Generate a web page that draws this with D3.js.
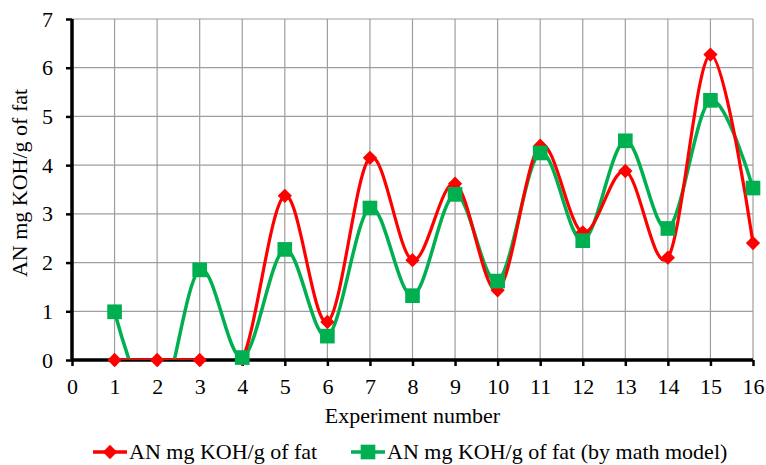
<!DOCTYPE html>
<html>
<head>
<meta charset="utf-8">
<script src="https://cdn.jsdelivr.net/npm/d3@7"></script>
</head>
<body style="margin:0;background:#fff">
<div id="container"></div>
<script>
// experiment numbers and the two series
const experiments=[1,2,3,4,5,6,7,8,9,10,11,12,13,14,15,16];
const anMeasured=[0,0,0,0.02,3.37,0.78,4.15,2.05,3.62,1.43,4.4,2.62,3.88,2.1,6.27,2.4];
const anModel=[0.99,-1.05,1.85,0.05,2.27,0.49,3.12,1.32,3.4,1.62,4.25,2.45,4.5,2.7,5.33,3.53];
const xTicks=d3.range(0,17);
const yTicks=d3.range(0,8);
const seriesNames=["AN mg KOH/g of fat","AN mg KOH/g of fat (by math model)"];

const w=766, h=465;
const margin={top:19, left:72, bottom:105, right:13};
const graphWidth=w-margin.left-margin.right;
const graphHeight=h-margin.top-margin.bottom;
const font="Liberation Serif";

const svg=d3.select("#container").append("svg").attr("width",w).attr("height",h);
const graph=svg.append("g").attr("transform",`translate(${margin.left},${margin.top})`);

const xScale=d3.scaleLinear().domain([0,16]).range([0,graphWidth]);
const yScale=d3.scaleLinear().domain([0,7]).range([graphHeight,0]);

// grid
graph.append("g").selectAll("line").data(xTicks.slice(1)).join("line")
  .attr("x1",d=>xScale(d)).attr("x2",d=>xScale(d))
  .attr("y1",0).attr("y2",graphHeight)
  .attr("stroke","#9e9e9e").attr("stroke-width",1.2);
graph.append("g").selectAll("line").data(yTicks.slice(1)).join("line")
  .attr("x1",0).attr("x2",graphWidth)
  .attr("y1",d=>yScale(d)).attr("y2",d=>yScale(d))
  .attr("stroke","#9e9e9e").attr("stroke-width",1.2);

// axes
const xAxis=d3.axisBottom(xScale).tickValues(xTicks).tickSize(6).tickPadding(12).tickFormat(d3.format("d"));
const yAxis=d3.axisLeft(yScale).tickValues(yTicks).tickSize(6).tickPadding(13).tickFormat(d3.format("d"));

const xg=graph.append("g").attr("transform",`translate(0,${graphHeight})`).call(xAxis);
const yg=graph.append("g").call(yAxis);
[xg,yg].forEach(g=>{
  g.attr("font-family",font).attr("font-size",22);
  g.select(".domain").attr("stroke","#000").attr("stroke-width",3.5);
  g.selectAll(".tick line").attr("stroke","#000").attr("stroke-width",2.5);
  g.selectAll(".tick text").attr("fill","#000").attr("font-family",font).attr("font-size",22);
});
// domain without outer ticks
xg.select(".domain").attr("d",`M0,0H${graphWidth}`);
yg.select(".domain").attr("d",`M0,${graphHeight}V0`);

// clip lines to plot area
svg.append("defs").append("clipPath").attr("id","plot")
  .append("rect").attr("x",-5).attr("y",-5).attr("width",graphWidth+10).attr("height",graphHeight+5);

const line=d3.line().curve(d3.curveCardinal.tension(0))
  .x((d,i)=>xScale(experiments[i])).y(d=>yScale(d));

const colors=["#ff0000","#00b050"];

graph.append("path").datum(anModel).attr("clip-path","url(#plot)")
  .attr("d",line).attr("fill","none").attr("stroke",colors[1]).attr("stroke-width",3.5);
graph.append("path").datum(anMeasured).attr("clip-path","url(#plot)")
  .attr("d",line).attr("fill","none").attr("stroke",colors[0]).attr("stroke-width",3.2);

const diamond=d3.symbol().type(d3.symbolDiamond2).size(130);
const square=d3.symbol().type(d3.symbolSquare).size(215);

graph.append("g").selectAll("path").data(experiments).join("path")
  .attr("transform",(d,i)=>`translate(${xScale(d)},${yScale(anMeasured[i])})`)
  .attr("d",diamond).attr("fill",colors[0]);
graph.append("g").selectAll("path").data(experiments.filter((d,i)=>anModel[i]>=0)).join("path")
  .attr("transform",d=>`translate(${xScale(d)},${yScale(anModel[experiments.indexOf(d)])})`)
  .attr("d",square).attr("fill",colors[1]);

// axis titles
svg.append("text")
  .attr("x",margin.left+graphWidth/2).attr("y",423)
  .attr("text-anchor","middle").attr("font-family",font).attr("font-size",22)
  .text("Experiment number");

svg.append("text")
  .attr("transform",`translate(27,183) rotate(-90)`)
  .attr("text-anchor","middle").attr("font-family",font).attr("font-size",22)
  .text("AN mg KOH/g of fat");

// legend
const legend=svg.append("g").attr("id","legend");
const legendX=[93,351];
seriesNames.forEach((name,i)=>{
  const g=legend.append("g").attr("transform",`translate(${legendX[i]},452)`);
  g.append("line").attr("x1",0).attr("x2",34).attr("y1",0).attr("y2",0)
    .attr("stroke",colors[i]).attr("stroke-width",3.5);
  g.append("path").attr("transform","translate(17,0)").attr("d",i===0?diamond:square).attr("fill",colors[i]);
  g.append("text").attr("x",36).attr("y",7).attr("font-family",font).attr("font-size",22).text(name);
});
</script>
</body>
</html>
